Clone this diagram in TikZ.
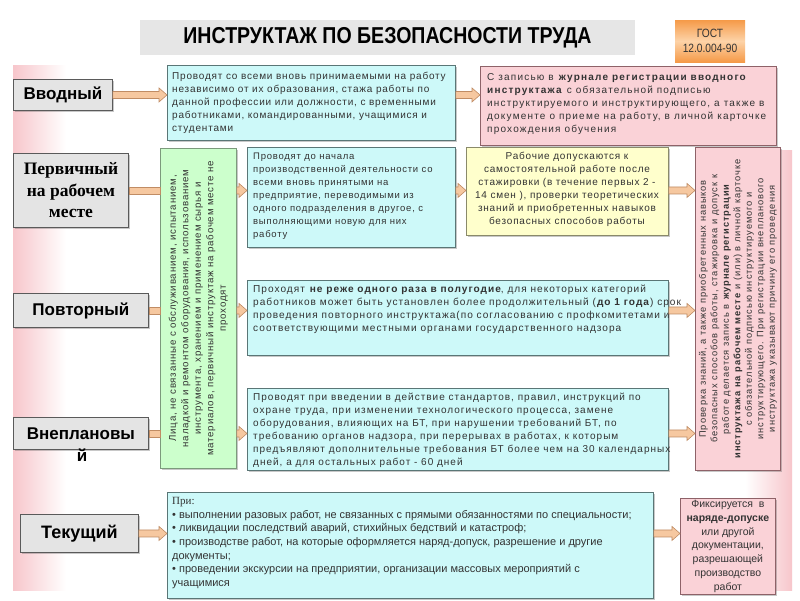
\documentclass[tikz,border=0pt]{standalone}
\usepackage{fontspec}
\setmainfont{Liberation Sans}
\newfontfamily\bodyf[LetterSpace=8]{Liberation Sans}
\newfontfamily\bodyfa[LetterSpace=10]{Liberation Sans}
\newfontfamily\bodyfb[LetterSpace=12]{Liberation Sans}
\newfontfamily\serifb{Liberation Serif}
\usetikzlibrary{calc,shadows}
\definecolor{cyanfill}{HTML}{CDF9F9}
\definecolor{cyanedge}{HTML}{5A7676}
\definecolor{pinkfill}{HTML}{FAD2D7}
\definecolor{pinkedge}{HTML}{8E6268}
\definecolor{yellowfill}{HTML}{FFFFCC}
\definecolor{yellowedge}{HTML}{8A8A6A}
\definecolor{greenfill}{HTML}{CCFFCC}
\definecolor{greenedge}{HTML}{7C9A7C}
\definecolor{labelfill}{HTML}{E4E4E4}
\definecolor{labeledge}{HTML}{5A5A5A}
\definecolor{arrowfill}{HTML}{F6C8A0}
\definecolor{arrowedge}{HTML}{C08C64}
\definecolor{titlegray}{HTML}{E6E6E6}
\definecolor{textc}{HTML}{333333}
\definecolor{strippink}{HTML}{F7C6CB}
\definecolor{gostdark}{HTML}{F59A48}
\definecolor{gostlight}{HTML}{FDD3A8}
\newcommand{\barrow}[2]{\draw[arrowst] ($(#1)+(0,-3.5)$) -- ($(#2)+(-8,-3.5)$) -- ($(#2)+(-8,-7)$) -- (#2) -- ($(#2)+(-8,7)$) -- ($(#2)+(-8,3.5)$) -- ($(#1)+(0,3.5)$) -- cycle;}
\newcommand{\bshaft}[2]{\draw[arrowst] ($(#1)+(0,-3.5)$) -- ($(#2)+(0,-3.5)$) -- ($(#2)+(0,3.5)$) -- ($(#1)+(0,3.5)$) -- cycle;}
\begin{document}
\begin{tikzpicture}[x=1pt,y=-1pt,
  shadowed/.style={drop shadow={shadow xshift=2pt,shadow yshift=-2pt,opacity=0.3,fill=black!70}},
  bx/.style={anchor=north west, inner sep=0pt, line width=0.8pt, shadowed},
  cbox/.style={bx, fill=cyanfill, draw=cyanedge},
  pbox/.style={bx, fill=pinkfill, draw=pinkedge},
  ybox/.style={bx, fill=yellowfill, draw=yellowedge},
  gbox/.style={bx, fill=greenfill, draw=greenedge},
  lbox/.style={anchor=north west, inner sep=0pt, line width=0.9pt, fill=labelfill, draw=labeledge, shadowed, text=black},
  lfont/.style={font=\bfseries\fontsize{17}{20}\selectfont},
  btxt/.style={inner sep=0pt, text=textc, font=\bodyf\fontsize{9.5}{13}\selectfont},
  arrowst/.style={fill=arrowfill, draw=arrowedge, line width=0.6pt}
]
\useasboundingbox (0,0) rectangle (800,600);
\fill[white] (0,0) rectangle (800,600);
% side strips
\shade[left color=strippink, right color=white] (13,65) rectangle (66,590);
\shade[left color=white, right color=strippink] (745,150) rectangle (792,590);

% title
\node[fill=titlegray, minimum width=495pt, minimum height=35pt, inner sep=0pt, font=\bfseries\fontsize{23}{25}\selectfont] (title) at (387.5,37.5) {\scalebox{0.85}[1]{ИНСТРУКТАЖ ПО БЕЗОПАСНОСТИ ТРУДА}};
\shade[top color=gostdark, bottom color=gostdark, middle color=gostlight] (675,20) rectangle (745,62);
\node[inner sep=0pt, minimum width=70pt, minimum height=42pt, align=center, text=textc, font=\fontsize{12}{15}\selectfont] (gost) at (710,41) {\scalebox{0.85}[1]{ГОСТ}\\\scalebox{0.85}[1]{12.0.004-90}};

% left labels
\node[lbox, lfont, minimum width=99pt, minimum height=31pt] (v1) at (13,79) {Вводный};
\node[lbox, minimum width=115pt, minimum height=74pt, align=center, font=\serifb\bfseries\fontsize{17.5}{21.5}\selectfont] (p1) at (13,153) {Первичный\\на рабочем\\месте};
\node[lbox, lfont, minimum width=135pt, minimum height=34pt] (r1) at (13,293) {Повторный};
\node[lbox, lfont, minimum width=135pt, minimum height=32pt] (u1) at (13,417) {Внеплановы};
\node[lfont, inner sep=0pt] (u1b) at (82,455) {й};
\node[lbox, minimum width=118pt, minimum height=38pt, font=\bfseries\fontsize{18}{20}\selectfont] (k1) at (20,514) {Текущий};

% boxes
\node[cbox, minimum width=288pt, minimum height=75pt] (c1) at (167,65) {};
\node[pbox, minimum width=296pt, minimum height=79pt] (pk1) at (480,66) {};
\node[gbox, minimum width=76pt, minimum height=320pt] (g) at (160,148) {};
\node[cbox, minimum width=208pt, minimum height=100pt] (c2) at (247,147) {};
\node[ybox, minimum width=202pt, minimum height=88pt] (y1) at (466,147) {};
\node[pbox, minimum width=85pt, minimum height=323pt] (pv) at (695,147) {};
\node[cbox, minimum width=421pt, minimum height=75pt] (c3) at (247,280) {};
\node[cbox, minimum width=421pt, minimum height=82pt] (c4) at (247,388) {};
\node[cbox, minimum width=486pt, minimum height=106pt] (c5) at (167,492) {};
\node[pbox, minimum width=95pt, minimum height=96pt] (pk5) at (680,498) {};

% texts
\node[btxt, anchor=west, align=left, font=\bodyf\fontsize{10}{13}\selectfont] (c1t) at (172,103) {Проводят со всеми вновь принимаемыми на работу\\независимо от их образования, стажа работы по\\данной профессии или должности, с временными\\работниками, командированными, учащимися и\\студентами};
\node[btxt, anchor=west, align=left, font=\bodyfb\fontsize{10}{13}\selectfont] (pk1t) at (487,104) {С записью в \textbf{журнале регистрации вводного}\\\textbf{инструктажа} с обязательной подписью\\инструктируемого и инструктирующего, а также в\\документе о приеме на работу, в личной карточке\\прохождения обучения};
\node[btxt, anchor=west, align=left] (c2t) at (253,196) {Проводят до начала\\производственной деятельности со\\всеми вновь принятыми на\\предприятие, переводимыми из\\одного подразделения в другое, с\\выполняющими новую для них\\работу};
\node[btxt, align=center, font=\bodyf\fontsize{10}{13}\selectfont] (y1t) at (567,189) {Рабочие допускаются к\\самостоятельной работе после\\стажировки (в течение первых 2 -\\14 смен ), проверки теоретических\\знаний и приобретенных навыков\\безопасных способов работы};
\node[btxt, anchor=north west, align=left, font=\bodyfa\fontsize{10.1}{13}\selectfont] (c3t) at (253,285) {Проходят \textbf{не реже одного раза в полугодие}, для некоторых категорий\\работников может быть установлен более продолжительный (\textbf{до 1 года}) срок\\проведения повторного инструктажа(по согласованию с профкомитетами и\\соответствующими местными органами государственного надзора};
\node[btxt, anchor=west, align=left, font=\bodyfa\fontsize{10}{13}\selectfont] (c4t) at (253,430) {Проводят при введении в действие стандартов, правил, инструкций по\\охране труда, при изменении технологического процесса, замене\\оборудования, влияющих на БТ, при нарушении требований БТ, по\\требованию органов надзора, при перерывах в работах, к которым\\предъявляют дополнительные требования БТ более чем на 30 календарных\\дней, а для остальных работ - 60 дней};
\node[btxt, rotate=90, align=center, font=\bodyf\fontsize{9.7}{12.5}\selectfont] (gt) at (g.center) {Лица, не связанные с обслуживанием, испытанием,\\наладкой и ремонтом оборудования, использованием\\инструмента, хранением и применением сырья и\\материалов, первичный инструктаж на рабочем месте не\\проходят};
\node[btxt, rotate=90, align=center, font=\bodyfa\fontsize{9.3}{11.5}\selectfont] (pvt) at (pv.center) {Проверка знаний, а также приобретенных навыков\\безопасных способов работы, стажировка и допуск к\\работе делается запись в \textbf{журнале регистрации}\\\textbf{инструктажа на рабочем месте} и (или) в личной карточке\\с обязательной подписью инструктируемого и\\инструктирующего. При регистрации внепланового\\инструктажа указывают причину его проведения};
\node[anchor=north west, inner sep=0pt, align=left, text=textc, font=\fontsize{11}{13.7}\selectfont] (c5t) at (172,497) {{\serifb При:}\\• выполнении разовых работ, не связанных с прямыми обязанностями по специальности;\\• ликвидации последствий аварий, стихийных бедствий и катастроф;\\• производстве работ, на которые оформляется наряд-допуск, разрешение и другие\\документы;\\• проведении экскурсии на предприятии, организации массовых мероприятий с\\учащимися};
\node[inner sep=0pt, align=center, text=textc, font=\fontsize{10.5}{13.8}\selectfont] (pk5t) at (pk5.center) {Фиксируется \ в\\\textbf{наряде-допуске}\\или другой\\документации,\\разрешающей\\производство\\работ};

% arrows
\barrow{v1.east}{v1.east -| c1.west}
\barrow{v1.east -| c1.east}{v1.east -| pk1.west}
\bshaft{p1.east}{p1.east -| g.west}
\bshaft{r1.east}{r1.east -| g.west}
\bshaft{u1.east}{u1.east -| g.west}
\barrow{p1.east -| g.east}{p1.east -| c2.west}
\barrow{r1.east -| g.east}{r1.east -| c3.west}
\barrow{u1.east -| g.east}{u1.east -| c4.west}
\barrow{p1.east -| c2.east}{p1.east -| y1.west}
\barrow{p1.east -| y1.east}{p1.east -| pv.west}
\barrow{r1.east -| c3.east}{r1.east -| pv.west}
\barrow{u1.east -| c4.east}{u1.east -| pv.west}
\barrow{k1.east}{k1.east -| c5.west}
\barrow{k1.east -| c5.east}{k1.east -| pk5.west}
\end{tikzpicture}
\end{document}
